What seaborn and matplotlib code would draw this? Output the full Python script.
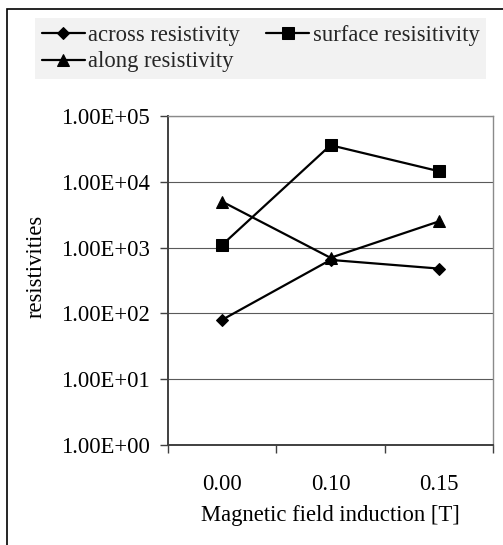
import matplotlib
matplotlib.use("Agg")
import matplotlib.pyplot as plt
import seaborn as sns
import pandas as pd
from matplotlib.ticker import FixedLocator, FuncFormatter, NullLocator
from matplotlib.patches import Rectangle

# ---- data ----
categories = ["0.00", "0.10", "0.15"]
across = [80, 650, 480]
surface = [1100, 36000, 14500]
along = [5000, 700, 2500]
series_names = ["across resistivity", "surface resisitivity", "along resistivity"]
y_ticks = [1, 10, 100, 1000, 10000, 100000]

sns.set_theme(style="white")
plt.rcParams["font.family"] = ["Liberation Serif", "DejaVu Serif"]
FS = 16.3

W, H = 503, 545
fig = plt.figure(figsize=(W / 100, H / 100), dpi=100)
ax = fig.add_axes([168 / W, 1 - 445 / H, 325 / W, 329 / H])

df = pd.DataFrame({
    "x": categories * 3,
    "y": across + surface + along,
    "s": [series_names[0]] * 3 + [series_names[1]] * 3 + [series_names[2]] * 3,
})

styles = {
    series_names[0]: dict(marker="D", markersize=6.5),
    series_names[1]: dict(marker="s", markersize=8),
    series_names[2]: dict(marker="^", markersize=8.5),
}
for name in series_names:
    sub = df[df["s"] == name]
    sns.lineplot(data=sub, x="x", y="y", ax=ax, color="black", linewidth=1.6,
                 markeredgecolor="black", markerfacecolor="black",
                 label=name, sort=False, **styles[name])

ax.set_yscale("log")
ax.set_ylim(1, 1e5)
ax.set_xlim(-0.5, 2.5)
ax.yaxis.set_major_locator(FixedLocator(y_ticks))
ax.yaxis.set_minor_locator(NullLocator())
ax.yaxis.set_major_formatter(FuncFormatter(lambda v, p: f"{v:.2E}"))
ax.grid(axis="y", color="#5a5a5a", linewidth=0.8)
ax.grid(axis="x", visible=False)

ax.set_xticks([0, 1, 2])
ax.set_xticklabels(categories)
ax.set_xticks([-0.5, 0.5, 1.5, 2.5], minor=True)
ax.tick_params(axis="x", which="major", length=0, pad=21, labelsize=FS, colors="black")
ax.tick_params(axis="x", which="minor", length=6, width=1.0, color="#404040", direction="out", bottom=True)
ax.tick_params(axis="y", which="major", length=6, width=1.0, color="#404040", direction="out", left=True,
               pad=7, labelsize=FS, labelcolor="black")

for side in ["left", "bottom"]:
    ax.spines[side].set_color("#404040")
    ax.spines[side].set_linewidth(1.4)
for side in ["right", "top"]:
    ax.spines[side].set_color("#8a8a8a")
    ax.spines[side].set_linewidth(1.0)

ax.set_xlabel("Magnetic field induction [T]", fontsize=FS, color="black")
ax.set_ylabel("resistivities", fontsize=FS, color="black")
ax.xaxis.label.set_va("center")
ax.xaxis.set_label_coords(0.5, (445 - 516) / 329)
ax.yaxis.label.set_va("center")
ax.yaxis.set_label_coords((36 - 168) / 325, (445 - 266) / 329)

# legend
h, l = ax.get_legend_handles_labels()
if ax.get_legend():
    ax.get_legend().remove()
order = [0, 2, 1]
leg = fig.legend([h[i] for i in order], [l[i] for i in order], ncol=2,
                 loc="upper left", bbox_to_anchor=(35 / W, 1 - 18 / H),
                 bbox_transform=fig.transFigure, borderaxespad=0,
                 fontsize=FS, frameon=True, fancybox=False,
                 facecolor="#f2f2f2", edgecolor="none", framealpha=1,
                 handlelength=1.9, handletextpad=0.15, columnspacing=1.15,
                 labelspacing=0.25, borderpad=0.3)

# outer border
fig.patches.append(Rectangle((7 / W, -0.1), 1.2, 1 - 9 / H + 0.1, transform=fig.transFigure,
                             fill=False, edgecolor="black", linewidth=1.2))

fig.savefig("out.png", dpi=100)
